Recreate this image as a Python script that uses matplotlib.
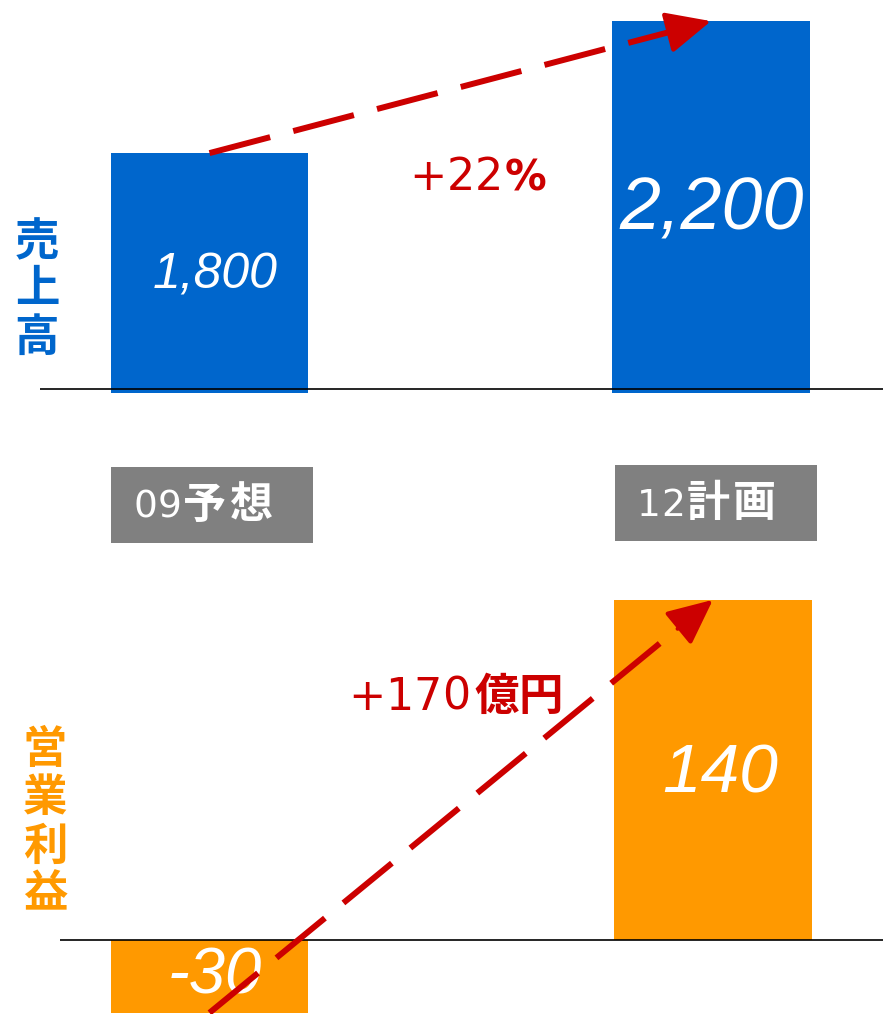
import matplotlib.pyplot as plt
from matplotlib.patches import Rectangle
from matplotlib.offsetbox import TextArea, HPacker, AnnotationBbox

# values
periods = ["09", "12"]
period_kind = ["予想", "計画"]
sales = [1800, 2200]
profit = [-30, 140]
sales_labels = ["1,800", "2,200"]
profit_labels = ["-30", "140"]
sales_change = ("+22", "%")
profit_change = ("+170", "億円")

BLUE = "#0066CC"
ORANGE = "#FF9900"
RED = "#CC0000"
GRAY = "#808080"
W, H = 883, 1014
JP = ["Noto Sans CJK JP", "DejaVu Sans"]

fig = plt.figure(figsize=(W / 100, H / 100), dpi=100)
x = [0, 1]


def fx(px):
    return px / W


def fy(py):
    return 1 - py / H


def dashed_arrow(ax, p0, p1):
    t = 0.93
    mid = (p0[0] + t * (p1[0] - p0[0]), p0[1] + t * (p1[1] - p0[1]))
    ax.plot([p0[0], mid[0]], [p0[1], mid[1]], color=RED, lw=4.3,
            dashes=(10.5, 4), dash_capstyle="butt", clip_on=False, zorder=5)
    ax.annotate("", xy=p1, xytext=mid, annotation_clip=False,
                arrowprops=dict(arrowstyle="-|>,head_length=1.55,head_width=0.72",
                                mutation_scale=18, color=RED, lw=3,
                                shrinkA=0, shrinkB=0), zorder=6)


def spaced(s, props, sep):
    # one TextArea per character so the letter spacing can be set
    return HPacker(children=[TextArea(c, textprops=props) for c in s],
                   align="baseline", pad=0, sep=sep)


def mixed_label(parts, xy, gap=1, align=(0, 0.5)):
    pack = HPacker(children=[spaced(s, p, sep) for s, p, sep in parts],
                   align="baseline", pad=0, sep=gap)
    ab = AnnotationBbox(pack, xy, xycoords="figure pixels", frameon=False,
                        box_alignment=align, pad=0)
    fig.add_artist(ab)


# --- 売上高 ---
ax1 = fig.add_axes([fx(40), fy(393), fx(W - 40), 393 / H])
ax1.bar(x, sales, width=0.393, color=BLUE)
ax1.set_xlim(-0.338, 1.343)
ax1.set_ylim(1073, 2264)
ax1.axhline(1085, color="black", lw=1.2, zorder=4)
ax1.axis("off")
ax1.text(0.011, 1430, sales_labels[0], ha="center", va="center", color="white",
         fontsize=36, style="italic", family="Liberation Sans")
ax1.text(1.002, 1627, sales_labels[1], ha="center", va="center", color="white",
         fontsize=53, style="italic", family="Liberation Sans")
dashed_arrow(ax1, (0, sales[0]), (1, sales[1]))

# --- 営業利益 ---
ax2 = fig.add_axes([fx(60), 0, fx(W - 60), (H - 560) / H])
ax2.bar(x, profit, width=0.393, color=ORANGE)
ax2.set_xlim(-0.297, 1.338)
ax2.set_ylim(-30.5, 156.4)
ax2.axhline(0, color="black", lw=1.2, zorder=4)
ax2.axis("off")
ax2.text(1.014, 68, profit_labels[1], ha="center", va="center", color="white",
         fontsize=50, style="italic", family="Liberation Sans")
ax2.text(0.011, -15, profit_labels[0], ha="center", va="center", color="white",
         fontsize=47, style="italic", family="Liberation Sans")
dashed_arrow(ax2, (0, profit[0]), (1, profit[1]))

# change annotations
mixed_label([(sales_change[0], dict(color=RED, fontsize=32, family="DejaVu Sans"), 0),
             (sales_change[1], dict(color=RED, fontsize=30, family="DejaVu Sans",
                                    weight="bold"), 0)],
            (409, H - 178), gap=1)
mixed_label([(profit_change[0], dict(color=RED, fontsize=32, family="DejaVu Sans"), 0),
             (profit_change[1], dict(color=RED, fontsize=32, family=JP,
                                     weight="bold"), 0)],
            (348, H - 697), gap=3)

# period boxes
box_left = [111, 615]
box_top = [467, 465]
for i in range(2):
    fig.add_artist(Rectangle((fx(box_left[i]), fy(box_top[i] + 76)),
                             202 / W, 76 / H, transform=fig.transFigure,
                             color=GRAY, lw=0))
    mixed_label([(periods[i], dict(color="white", fontsize=27,
                                   family="DejaVu Sans"), 0.5),
                 (period_kind[i], dict(color="white", fontsize=31, family=JP,
                                       weight="bold"), 2)],
                (box_left[i] + 22, H - (box_top[i] + 38)), gap=1)

# side titles
for ch, py in zip("売上高", [242, 289, 338]):
    fig.text(fx(37), fy(py), ch, ha="center", va="center", color=BLUE,
             fontsize=32, weight="bold", family=JP)
for ch, py in zip("営業利益", [750, 798, 847, 894]):
    fig.text(fx(45), fy(py), ch, ha="center", va="center", color=ORANGE,
             fontsize=32, weight="bold", family=JP)

fig.savefig("out.png", dpi=100)
